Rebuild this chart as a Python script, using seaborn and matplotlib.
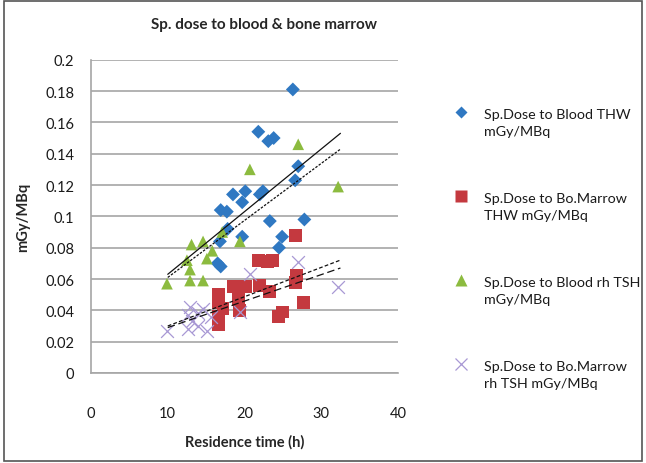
import numpy as np
import matplotlib
matplotlib.use("Agg")
import matplotlib.pyplot as plt
import seaborn as sns
from matplotlib.lines import Line2D
from matplotlib.legend_handler import HandlerLine2D
from matplotlib.patches import Rectangle
from matplotlib.ticker import FuncFormatter, MultipleLocator

# Specific dose (mGy/MBq) against residence time (h)
blood_thw_x = [26.3, 21.8, 23.1, 23.8, 27.0, 26.6, 22.0, 22.4, 18.5, 20.1, 19.7,
               16.9, 17.7, 17.8, 19.7, 23.3, 27.8, 24.9, 24.5, 16.8, 16.5, 16.9]
blood_thw_y = [0.181, 0.154, 0.148, 0.150, 0.132, 0.123, 0.114, 0.116, 0.114, 0.116, 0.109,
               0.104, 0.103, 0.092, 0.087, 0.097, 0.098, 0.087, 0.080, 0.084, 0.070, 0.068]

marrow_thw_x = [16.6, 16.6, 16.6, 16.6, 17.2, 18.5, 19.2, 19.4, 20.1, 21.8,
                22.0, 23.0, 23.6, 23.3, 24.4, 24.9, 26.6, 26.6, 26.8, 27.7]
marrow_thw_y = [0.050, 0.045, 0.036, 0.031, 0.041, 0.055, 0.047, 0.040, 0.055, 0.072,
                0.056, 0.071, 0.072, 0.052, 0.036, 0.039, 0.088, 0.058, 0.062, 0.045]

blood_rh_x = [9.9, 12.5, 12.9, 13.1, 12.9, 14.6, 14.6, 15.1, 15.8, 17.1, 19.4, 20.7, 27.0, 32.2]
blood_rh_y = [0.057, 0.072, 0.066, 0.082, 0.059, 0.059, 0.084, 0.073, 0.078, 0.090,
              0.084, 0.130, 0.146, 0.119]

marrow_rh_x = [9.9, 12.6, 12.9, 13.2, 12.6, 14.0, 14.6, 15.1, 15.6, 14.0, 19.4, 20.7, 27.0, 32.2]
marrow_rh_y = [0.027, 0.037, 0.042, 0.033, 0.028, 0.030, 0.041, 0.027, 0.036, 0.038,
               0.039, 0.063, 0.071, 0.055]

# Linear trendlines: (intercept, slope) and the span they cover
trend_span = [10.0, 32.5]
trend_blood_thw = (0.0230, 0.00400)
trend_blood_rh = (0.0246, 0.00364)
trend_marrow_thw = (0.0113, 0.00187)
trend_marrow_rh = (0.0121, 0.00169)

legend_labels = [
    "Sp.Dose to Blood THW\nmGy/MBq",
    "Sp.Dose to Bo.Marrow\nTHW mGy/MBq",
    "Sp.Dose to Blood rh TSH\nmGy/MBq",
    "Sp.Dose to Bo.Marrow\nrh TSH mGy/MBq",
]
x_ticks = [0, 10, 20, 30, 40]

BLUE = "#2f78c2"
RED = "#c4393f"
GREEN = "#8cbb3f"
PURPLE = "#a898d4"

sns.set_theme(style="white")
plt.rcParams["font.family"] = ["Lato", "DejaVu Sans"]

W, H = 646, 464
fig = plt.figure(figsize=(W / 100, H / 100), dpi=100)
ax = fig.add_axes([91 / W, 1 - 374 / H, (398 - 91) / W, (374 - 60.7) / H])

sns.scatterplot(x=blood_thw_x, y=blood_thw_y, marker="D", s=50, color=BLUE,
                edgecolor="none", ax=ax, zorder=3)
sns.scatterplot(x=marrow_thw_x, y=marrow_thw_y, marker="s", s=85, color=RED,
                edgecolor="none", ax=ax, zorder=3)
sns.scatterplot(x=blood_rh_x, y=blood_rh_y, marker="^", s=70, color=GREEN,
                edgecolor="none", ax=ax, zorder=3)
sns.scatterplot(x=marrow_rh_x, y=marrow_rh_y, marker="x", s=85, color=PURPLE,
                linewidth=0.9, ax=ax, zorder=3)

xs = np.array(trend_span)
for (b0, b1), style in [
    (trend_blood_thw, "-"),
    (trend_blood_rh, (0, (2.0, 1.2))),
    (trend_marrow_thw, (0, (3.0, 1.8))),
    (trend_marrow_rh, (0, (6.0, 3.0))),
]:
    ax.plot(xs, b0 + b1 * xs, color="#111111", lw=0.9, linestyle=style, zorder=4)

ax.set_xlim(0, 40)
ax.set_ylim(0, 0.2)
ax.set_xticks(x_ticks)
ax.yaxis.set_major_locator(MultipleLocator(0.02))
ax.yaxis.set_major_formatter(FuncFormatter(lambda v, _: f"{v:.2f}".rstrip("0").rstrip(".") if v else "0"))
ax.grid(axis="y", color="#a6a6a6", lw=1.2)
ax.set_axisbelow(True)
for side in ["top", "right"]:
    ax.spines[side].set_visible(False)
for side in ["left", "bottom"]:
    ax.spines[side].set_color("#a6a6a6")
    ax.spines[side].set_linewidth(1.2)
ax.tick_params(axis="both", length=0, labelsize=10.5, colors="#1a1a1a")
ax.tick_params(axis="x", pad=24)
ax.tick_params(axis="y", pad=12)

ax.set_xlabel("Residence time (h)", fontsize=10.5, fontweight="bold", labelpad=10)
ax.set_ylabel("mGy/MBq", fontsize=10.5, fontweight="bold", labelpad=11)
fig.text(264 / W, 1 - 25 / H, "Sp. dose to blood & bone marrow", ha="center",
         va="center", fontsize=11, fontweight="bold")


class FirstLineMarker(HandlerLine2D):
    """Legend marker lined up with the first line of a two-line label."""

    def create_artists(self, legend, orig_handle, xdescent, ydescent, width,
                       height, fontsize, trans):
        arts = super().create_artists(legend, orig_handle, xdescent, ydescent,
                                      width, height, fontsize, trans)
        for a in arts:
            a.set_ydata(np.asarray(a.get_ydata(), dtype=float) + 0.75 * fontsize)
        return arts


handles = [
    Line2D([], [], ls="none", marker="D", ms=6.5, color=BLUE, mec="none"),
    Line2D([], [], ls="none", marker="s", ms=8.5, color=RED, mec="none"),
    Line2D([], [], ls="none", marker="^", ms=8.0, color=GREEN, mec="none"),
    Line2D([], [], ls="none", marker="x", ms=8.5, color=PURPLE, mew=0.9),
]
leg = fig.legend(handles, legend_labels, loc="upper left",
                 bbox_to_anchor=(440 / W, 1 - 96 / H), frameon=False,
                 fontsize=10.3, labelspacing=3.85, handlelength=1.2,
                 handletextpad=1.0, handler_map={Line2D: FirstLineMarker()})
for t in leg.get_texts():
    t.set_linespacing(1.5)
    t.set_color("#1a1a1a")

fig.patches.append(Rectangle((4 / W, 2 / H), (W - 8) / W, (H - 4) / H,
                             transform=fig.transFigure, fill=False,
                             edgecolor="#555555", lw=1.2))

fig.savefig("out.png", dpi=100)
